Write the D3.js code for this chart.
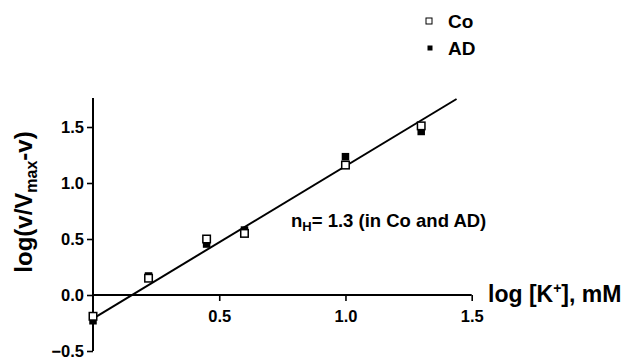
<!DOCTYPE html>
<html>
<head>
<meta charset="utf-8">
<script src="https://cdn.jsdelivr.net/npm/d3@7"></script>
<style>
  html, body { margin: 0; padding: 0; background: #fff; }
  svg { display: block; }
  text { font-family: Arial, "Liberation Sans", Helvetica, sans-serif; font-weight: bold; fill: #000; }
</style>
</head>
<body>
<svg id="chart" width="629" height="360"></svg>
<script>
// ---- data ----
const logK = [0, 0.22, 0.45, 0.60, 1.0, 1.30];
const coValues = [-0.19, 0.15, 0.50, 0.55, 1.16, 1.51];
const adValues = [-0.23, 0.17, 0.455, 0.58, 1.235, 1.46];
const fitX = [0, 1.44];
const fitY = [-0.21, 1.75];
const xTicks = [0.5, 1.0, 1.5];
const yTicks = [-0.5, 0.0, 0.5, 1.0, 1.5];
const seriesNames = ["Co", "AD"];
const annotation = "1.3 (in Co and AD)";

// ---- layout ----
const svg = d3.select("#chart");
const x = d3.scaleLinear().domain([0, 1.5]).range([93, 471.7]);
const y = d3.scaleLinear().domain([-0.5, 1.5]).range([351, 127]);
const yTop = 1.76;

// y axis
const yAxis = d3.axisLeft(y).tickValues(yTicks).tickFormat(d3.format(".1f")).tickSize(6).tickSizeOuter(0).tickPadding(3);
const gy = svg.append("g").attr("transform", `translate(${x(0)},0)`).call(yAxis);
gy.select(".domain").remove();
gy.append("line").attr("x1", 0).attr("x2", 0).attr("y1", y(yTop)).attr("y2", y(-0.5))
  .attr("stroke", "#000").attr("stroke-width", 2);
gy.selectAll(".tick line").attr("stroke", "#000").attr("stroke-width", 1.6);
gy.selectAll(".tick text").style("font-size", "16.5px").style("font-family", "Arial, 'Liberation Sans', sans-serif").style("font-weight", "bold").attr("fill", "#000");

// x axis at y = 0
const xAxis = d3.axisBottom(x).tickValues(xTicks).tickFormat(d3.format(".1f")).tickSize(6).tickSizeOuter(0).tickPadding(9);
const gx = svg.append("g").attr("transform", `translate(0,${y(0)})`).call(xAxis);
gx.select(".domain").remove();
gx.append("line").attr("x1", x(0)).attr("x2", x(1.5)).attr("y1", 0).attr("y2", 0)
  .attr("stroke", "#000").attr("stroke-width", 2);
gx.selectAll(".tick line").attr("stroke", "#000").attr("stroke-width", 1.6);
gx.selectAll(".tick text").style("font-size", "16.5px").style("font-family", "Arial, 'Liberation Sans', sans-serif").style("font-weight", "bold").attr("fill", "#000");

// regression line
const fit = fitX.map((v, i) => [v, fitY[i]]);
svg.append("path").datum(fit)
  .attr("d", d3.line().x(d => x(d[0])).y(d => y(d[1])))
  .attr("fill", "none").attr("stroke", "#000").attr("stroke-width", 2);

// AD filled squares
const adSize = 7.5;
svg.append("g").selectAll("rect").data(logK.map((v, i) => [v, adValues[i]])).join("rect")
  .attr("x", d => x(d[0]) - adSize / 2).attr("y", d => y(d[1]) - adSize / 2)
  .attr("width", adSize).attr("height", adSize).attr("fill", "#000");

// Co open squares
const coSize = 7.5;
svg.append("g").selectAll("rect").data(logK.map((v, i) => [v, coValues[i]])).join("rect")
  .attr("x", d => x(d[0]) - coSize / 2).attr("y", d => y(d[1]) - coSize / 2)
  .attr("width", coSize).attr("height", coSize).attr("fill", "#fff")
  .attr("stroke", "#000").attr("stroke-width", 1.5);

// axis titles
const yt = svg.append("text").attr("transform", "translate(32,202) rotate(-90)")
  .attr("text-anchor", "middle").style("font-size", "24px");
yt.append("tspan").text("log(v/V");
yt.append("tspan").text("max").style("font-size", "16px").attr("dy", 5);
yt.append("tspan").text("-v)").attr("dy", -5);

const xt = svg.append("text").attr("x", 488).attr("y", 302).style("font-size", "23px");
xt.append("tspan").text("log [K");
xt.append("tspan").text("+").style("font-size", "14px").attr("dy", -9);
xt.append("tspan").text("], mM").attr("dy", 9);

// annotation
const an = svg.append("text").attr("x", 291).attr("y", 227).style("font-size", "18.5px");
an.append("tspan").text("n");
an.append("tspan").text("H").style("font-size", "13px").attr("dy", 4);
an.append("tspan").text("= " + annotation).attr("dy", -4);

// legend
const legend = svg.append("g");
legend.append("rect").attr("x", 426).attr("y", 18).attr("width", 6).attr("height", 6)
  .attr("fill", "#fff").attr("stroke", "#000").attr("stroke-width", 1);
legend.append("text").attr("x", 448).attr("y", 28).style("font-size", "19px").text(seriesNames[0]);
legend.append("rect").attr("x", 427.5).attr("y", 45.5).attr("width", 5).attr("height", 5).attr("fill", "#000");
legend.append("text").attr("x", 448).attr("y", 54.5).style("font-size", "19px").text(seriesNames[1]);
</script>
</body>
</html>
